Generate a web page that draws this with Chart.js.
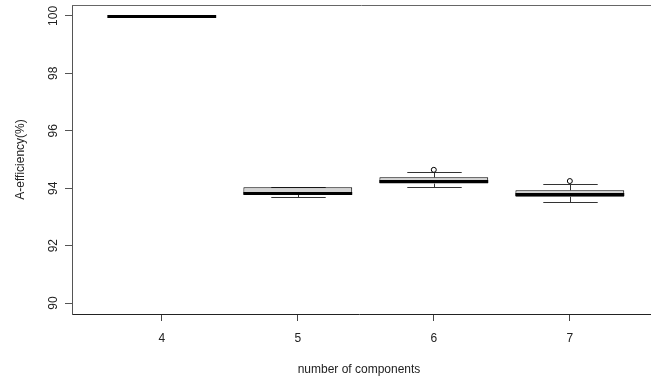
<!DOCTYPE html>
<html>
<head>
<meta charset="utf-8">
<script src="https://cdn.jsdelivr.net/npm/chart.js@4.4.1/dist/chart.umd.min.js"></script>
<style>
  body { margin: 0; background: #fff; }
  .chartBox { width: 651px; height: 383px; }
</style>
</head>
<body>
<div class="chartBox">
  <canvas id="myChart"></canvas>
</div>
<script>
// number of components (x categories)
const components = ['4', '5', '6', '7'];

// box statistics per group
const whiskerLow  = [100, 93.71, 94.03, 93.51];
const lowerQuart  = [100, 93.78, 94.16, 93.70];
const medians     = [100, 93.84, 94.26, 93.81];
const upperQuart  = [100, 94.03, 94.38, 93.93];
const whiskerHigh = [100, 94.03, 94.57, 94.15];
const outliers    = [[], [], [94.64], [94.25]];

const yTicks = [90, 92, 94, 96, 98, 100];

const boxData = components.map((c, i) => ({ x: i + 1, y: [lowerQuart[i], upperQuart[i]] }));
const outlierData = [];
outliers.forEach((list, i) => list.forEach(v => outlierData.push({ x: i + 1, y: v })));

const fontFamily = '"Liberation Sans", Arial, sans-serif';

// whiskers, staples, medians and the top frame line
const boxExtras = {
    id: 'boxExtras',
    beforeDatasetsDraw(chart) {
        const { ctx, scales: { x, y } } = chart;
        const unit = x.getPixelForValue(2) - x.getPixelForValue(1);
        const half = unit * 0.2;
        ctx.save();
        ctx.strokeStyle = '#333';
        ctx.lineWidth = 1;
        components.forEach((c, i) => {
            const cx = Math.round(x.getPixelForValue(i + 1)) + 0.5;
            const yLo = Math.round(y.getPixelForValue(whiskerLow[i])) + 0.5;
            const yQ1 = y.getPixelForValue(lowerQuart[i]);
            const yQ3 = y.getPixelForValue(upperQuart[i]);
            const yHi = Math.round(y.getPixelForValue(whiskerHigh[i])) + 0.5;
            ctx.beginPath();
            ctx.moveTo(cx, yLo); ctx.lineTo(cx, yQ1);
            ctx.moveTo(cx, yHi); ctx.lineTo(cx, yQ3);
            ctx.moveTo(cx - half, yLo); ctx.lineTo(cx + half, yLo);
            ctx.moveTo(cx - half, yHi); ctx.lineTo(cx + half, yHi);
            ctx.stroke();
        });
        ctx.restore();
    },
    afterDatasetsDraw(chart) {
        const { ctx, chartArea, scales: { x, y } } = chart;
        const unit = x.getPixelForValue(2) - x.getPixelForValue(1);
        const half = unit * 0.4;
        ctx.save();
        ctx.strokeStyle = '#000';
        ctx.lineWidth = 3;
        components.forEach((c, i) => {
            const cx = x.getPixelForValue(i + 1);
            const ym = Math.round(y.getPixelForValue(medians[i])) + 0.5;
            ctx.beginPath();
            ctx.moveTo(cx - half, ym); ctx.lineTo(cx + half, ym);
            ctx.stroke();
        });
        // plot frame runs off the right edge like the original
        ctx.strokeStyle = '#666';
        ctx.lineWidth = 1;
        ctx.beginPath();
        ctx.moveTo(chartArea.left, chartArea.top + 0.5);
        ctx.lineTo(chart.width, chartArea.top + 0.5);
        ctx.stroke();
        ctx.strokeStyle = '#222';
        ctx.beginPath();
        ctx.moveTo(chartArea.right - 1, Math.round(chartArea.bottom) + 0.5);
        ctx.lineTo(chart.width, Math.round(chartArea.bottom) + 0.5);
        ctx.stroke();
        ctx.restore();
    }
};

const config = {
    type: 'bar',
    data: {
        datasets: [{
            type: 'bar',
            data: boxData,
            backgroundColor: '#d3d3d3',
            borderColor: '#000',
            borderWidth: 1,
            borderSkipped: false,
            categoryPercentage: 1,
            barPercentage: 0.8,
            order: 2
        }, {
            type: 'scatter',
            data: outlierData,
            pointStyle: 'circle',
            pointRadius: 2.5,
            pointBackgroundColor: '#fff',
            pointBorderColor: '#000',
            pointBorderWidth: 1,
            order: 1
        }]
    },
    options: {
        responsive: true,
        maintainAspectRatio: false,
        animation: false,
        layout: { padding: { top: 4, right: 0, left: 0, bottom: 0 } },
        plugins: {
            legend: { display: false },
            tooltip: { enabled: false }
        },
        scales: {
            x: {
                type: 'linear',
                min: 0.34,
                max: 4.56,
                offset: false,
                afterFit(scale) {
                    scale.height = 69;
                    scale.paddingLeft = 0;
                    scale.paddingRight = 0;
                },
                afterBuildTicks(scale) { scale.ticks = components.map((c, i) => ({ value: i + 1 })); },
                ticks: {
                    callback: (v) => components[v - 1],
                    color: '#222',
                    padding: 10,
                    font: { family: fontFamily, size: 12 }
                },
                grid: { offset: false, drawOnChartArea: false, drawTicks: true, tickLength: 7, color: '#444' },
                border: { display: true, color: '#222' },
                title: {
                    display: true,
                    text: 'number of components',
                    color: '#222',
                    padding: { top: 0, bottom: 6 },
                    font: { family: fontFamily, size: 12 }
                }
            },
            y: {
                min: 89.62,
                max: 100.38,
                afterFit(scale) {
                    scale.width = 72;
                    scale.paddingTop = 0;
                    scale.paddingBottom = 0;
                },
                afterBuildTicks(scale) { scale.ticks = yTicks.map(v => ({ value: v })); },
                ticks: {
                    minRotation: 90,
                    maxRotation: 90,
                    crossAlign: 'center',
                    padding: 1,
                    color: '#222',
                    font: { family: fontFamily, size: 12 }
                },
                grid: { drawOnChartArea: false, drawTicks: true, tickLength: 7, color: '#555' },
                border: { display: true, color: '#555' },
                title: {
                    display: true,
                    text: 'A-efficiency(%)',
                    color: '#222',
                    padding: { top: 13, bottom: 0 },
                    font: { family: fontFamily, size: 12 }
                }
            }
        }
    },
    plugins: [boxExtras]
};

new Chart(document.getElementById('myChart'), config);
</script>
</body>
</html>
